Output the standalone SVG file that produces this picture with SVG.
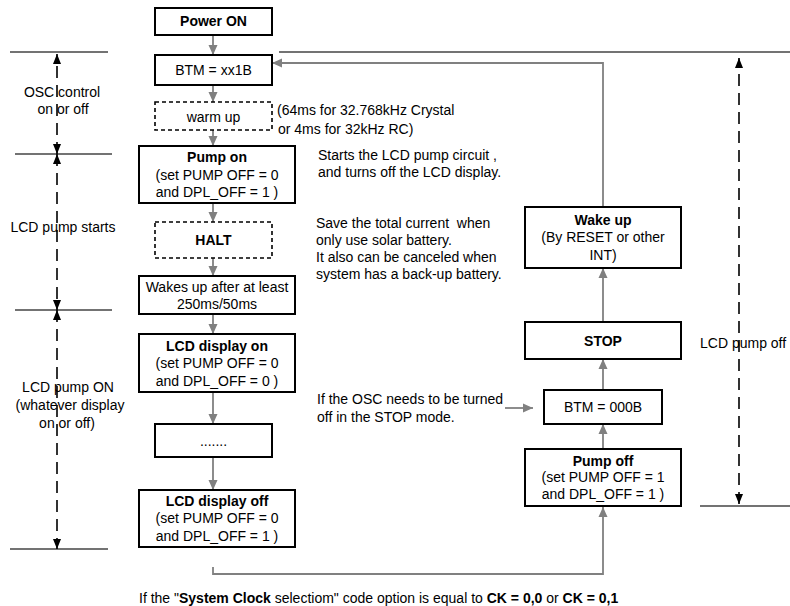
<svg xmlns="http://www.w3.org/2000/svg" width="790" height="606" viewBox="0 0 790 606">
<style>
text{font-family:"Liberation Sans",Arial,Helvetica,sans-serif;font-size:14px;fill:#000}
.c{text-anchor:middle}
.b{font-weight:bold}
.box{fill:#fff;stroke:#000;stroke-width:2}
.dbox{fill:#fff;stroke:#000;stroke-width:1.6;stroke-dasharray:4 3}
.conn{fill:none;stroke:#808080;stroke-width:1.8}
.rule{fill:none;stroke:#444;stroke-width:1.4}
.dim{fill:none;stroke:#000;stroke-width:1.6;stroke-dasharray:12 7}
</style>
<defs>
<marker id="ga" markerUnits="userSpaceOnUse" markerWidth="10" markerHeight="10" refX="10" refY="4.5" orient="auto-start-reverse" viewBox="0 0 10 9"><path d="M0,0 L10,4.5 L0,9 z" fill="#808080"/></marker>
<marker id="ba" markerUnits="userSpaceOnUse" markerWidth="10" markerHeight="9" refX="10" refY="4" orient="auto-start-reverse" viewBox="0 0 10 8"><path d="M0,0 L10,4 L0,8 z" fill="#000"/></marker>
</defs>
<rect width="790" height="606" fill="#fff"/>

<g id="rules">
<line class="rule" x1="10" y1="52" x2="108" y2="52"/>
<line class="rule" x1="279" y1="52" x2="790" y2="52"/>
<line class="rule" x1="15" y1="154" x2="112" y2="154"/>
<line class="rule" x1="15" y1="310" x2="112" y2="310"/>
<line class="rule" x1="10" y1="549" x2="108" y2="549"/>
<line class="rule" x1="700" y1="506" x2="790" y2="506"/>
</g>

<g id="dimensions">
<line class="dim" x1="57" y1="154" x2="57" y2="54" marker-start="url(#ba)" marker-end="url(#ba)"/>
<line class="dim" x1="57" y1="154" x2="57" y2="310" marker-start="url(#ba)" marker-end="url(#ba)"/>
<line class="dim" x1="57" y1="310" x2="57" y2="549" marker-start="url(#ba)" marker-end="url(#ba)"/>
<line class="dim" x1="739" y1="504" x2="739" y2="58" marker-start="url(#ba)" marker-end="url(#ba)"/>
</g>

<g id="connectors">
<line class="conn" x1="213" y1="35" x2="213" y2="55" marker-end="url(#ga)"/>
<line class="conn" x1="213" y1="85" x2="213" y2="102" marker-end="url(#ga)"/>
<line class="conn" x1="213" y1="130" x2="213" y2="146" marker-end="url(#ga)"/>
<line class="conn" x1="213" y1="203" x2="213" y2="222" marker-end="url(#ga)"/>
<line class="conn" x1="213" y1="258" x2="213" y2="276" marker-end="url(#ga)"/>
<line class="conn" x1="213" y1="314" x2="213" y2="334" marker-end="url(#ga)"/>
<line class="conn" x1="213" y1="392" x2="213" y2="424" marker-end="url(#ga)"/>
<line class="conn" x1="213" y1="457" x2="213" y2="490" marker-end="url(#ga)"/>
<polyline class="conn" points="213,567 213,574 603,574 603,507" marker-end="url(#ga)"/>
<line class="conn" x1="603" y1="449" x2="603" y2="424" marker-end="url(#ga)"/>
<line class="conn" x1="603" y1="390" x2="603" y2="359" marker-end="url(#ga)"/>
<line class="conn" x1="603" y1="322" x2="603" y2="268" marker-end="url(#ga)"/>
<polyline class="conn" points="603,207 603,63 272,63" marker-end="url(#ga)"/>
<line class="conn" x1="505" y1="408" x2="533" y2="408" marker-end="url(#ga)"/>
</g>

<g id="power-on"><rect class="box" x="155" y="8" width="117" height="27"/><text class="c b" x="213.5" y="26">Power ON</text></g>
<g id="btm-xx1b"><rect class="box" x="155" y="55" width="117" height="30"/><text class="c" x="213.5" y="75">BTM = xx1B</text></g>
<g id="warm-up"><rect class="dbox" x="155" y="102" width="117" height="28"/><text class="c" x="213.5" y="122">warm up</text></g>
<g id="pump-on"><rect class="box" x="139" y="146" width="156" height="57"/>
<text class="c b" x="217" y="162">Pump on</text><text class="c" x="217" y="180">(set PUMP OFF = 0</text><text class="c" x="217" y="197">and DPL_OFF = 1 )</text></g>
<g id="halt"><rect class="dbox" x="155" y="222" width="117" height="36"/><text class="c b" x="213.5" y="245">HALT</text></g>
<g id="wakes-up"><rect class="box" x="139" y="276" width="156" height="38"/>
<text class="c" x="217" y="292">Wakes up after at least</text><text class="c" x="217" y="309">250ms/50ms</text></g>
<g id="lcd-on"><rect class="box" x="139" y="334" width="156" height="58"/>
<text class="c b" x="217" y="351">LCD display on</text><text class="c" x="217" y="368">(set PUMP OFF = 0</text><text class="c" x="217" y="386">and DPL_OFF = 0 )</text></g>
<g id="dots"><rect class="box" x="155" y="424" width="117" height="33"/><text class="c" x="213.5" y="446">.......</text></g>
<g id="lcd-off"><rect class="box" x="139" y="490" width="156" height="57"/>
<text class="c b" x="217" y="506">LCD display off</text><text class="c" x="217" y="523">(set PUMP OFF = 0</text><text class="c" x="217" y="541">and DPL_OFF = 1 )</text></g>

<g id="wake-up"><rect class="box" x="525" y="207" width="156" height="61"/>
<text class="c b" x="603" y="225">Wake up</text><text class="c" x="603" y="242">(By RESET or other</text><text class="c" x="603" y="260">INT)</text></g>
<g id="stop"><rect class="box" x="525" y="322" width="156" height="37"/><text class="c b" x="603" y="346">STOP</text></g>
<g id="btm-000b"><rect class="box" x="544" y="390" width="118" height="34"/><text class="c" x="603" y="412">BTM = 000B</text></g>
<g id="pump-off"><rect class="box" x="525" y="449" width="156" height="57"/>
<text class="c b" x="603" y="466">Pump off</text><text class="c" x="603" y="482">(set PUMP OFF = 1</text><text class="c" x="603" y="499">and DPL_OFF = 1 )</text></g>

<g id="labels">
<text class="c" x="62" y="97">OSC control</text>
<text class="c" x="63" y="114">on or off</text>
<text class="c" x="63" y="232">LCD pump starts</text>
<text class="c" x="68" y="392">LCD pump ON</text>
<text class="c" x="70" y="410">(whatever display</text>
<text class="c" x="67" y="428">on or off)</text>
<text x="700" y="348">LCD pump off</text>
<text x="277" y="115">(64ms for 32.768kHz Crystal</text>
<text x="278" y="134">or 4ms for 32kHz RC)</text>
<text x="318" y="160">Starts the LCD pump circuit ,</text>
<text x="318" y="177">and turns off the LCD display.</text>
<text x="316" y="228" xml:space="preserve">Save the total current  when</text>
<text x="316" y="245">only use solar battery.</text>
<text x="316" y="262">It also can be canceled when</text>
<text x="316" y="279">system has a back-up battery.</text>
<text x="317" y="404">If the OSC needs to be turned</text>
<text x="317" y="422">off in the STOP mode.</text>
<text x="139" y="603">If the "<tspan class="b">System Clock</tspan> selectiom" code option is equal to <tspan class="b">CK = 0,0</tspan> or <tspan class="b">CK = 0,1</tspan></text>
</g>
</svg>
